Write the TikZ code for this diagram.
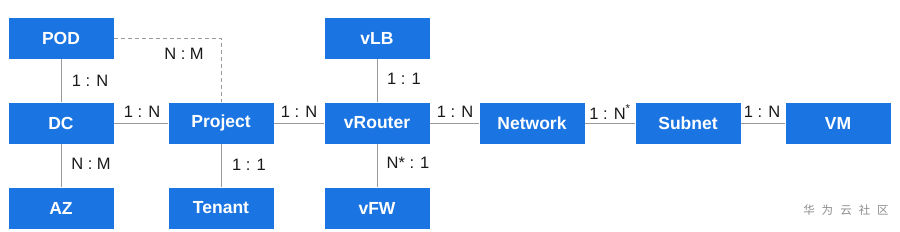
\documentclass[tikz,border=0pt]{standalone}
\usepackage{fontspec}
\setmainfont{Liberation Sans}
\newfontfamily\cjk{Noto Sans CJK SC}
\definecolor{boxblue}{HTML}{1A74E2}
\definecolor{linegray}{HTML}{9A9A9A}
\definecolor{wmgray}{HTML}{8C8C8C}
\begin{document}
\begin{tikzpicture}[x=1pt,y=-1pt,
  entity/.style={fill=boxblue,draw=none,minimum width=105pt,minimum height=41pt,inner sep=0pt,
    text=white,font=\fontsize{17.5}{19}\selectfont\bfseries},
  conn/.style={draw=linegray,line width=1pt},
  rel/.style={font=\fontsize{16.5}{18}\selectfont,text=black!90,inner sep=1pt}]
\useasboundingbox (0,0) rectangle (900,231);
\node[entity] (pod) at (61,38) {POD};
\node[entity] (dc) at (61,123) {DC};
\node[entity] (az) at (61,208) {AZ};
\node[entity] (project) at (221,123) {Project};
\node[entity] (tenant) at (221,208) {Tenant};
\node[entity] (vlb) at (377,38) {vLB};
\node[entity] (vrouter) at (377,123) {vRouter};
\node[entity] (vfw) at (377,208) {vFW};
\node[entity] (network) at (532,123) {Network};
\node[entity] (subnet) at (688,123) {Subnet};
\node[entity] (vm) at (838,123) {VM};
\draw[conn] (pod) -- (dc);
\draw[conn] (dc) -- (az);
\draw[conn] (dc) -- (project);
\draw[conn] (project) -- (tenant);
\draw[conn] (project) -- (vrouter);
\draw[conn] (vlb) -- (vrouter);
\draw[conn] (vrouter) -- (vfw);
\draw[conn] (vrouter) -- (network);
\draw[conn] (network) -- (subnet);
\draw[conn] (subnet) -- (vm);
\draw[conn,dashed,dash pattern=on 4pt off 3pt] (pod.east) -| (project.north);
\node[rel] (l1) at (184,54) {N : M};
\node[rel] (l2) at (90,81) {1 : N};
\node[rel] (l3) at (91,164) {N : M};
\node[rel] (l4) at (142,112) {1 : N};
\node[rel] (l5) at (249,165) {1 : 1};
\node[rel] (l6) at (299,112) {1 : N};
\node[rel] (l7) at (404,79) {1 : 1};
\node[rel] (l8) at (408,163) {N* : 1};
\node[rel] (l9) at (455,112) {1 : N};
\node[rel] (l10) at (610,112) {1 : N\textsuperscript{*}};
\node[rel] (l11) at (762,112) {1 : N};
\node[font=\cjk\fontsize{11.5}{13}\selectfont,text=wmgray] (wm) at (846,210) {华\hspace{7pt}为\hspace{7pt}云\hspace{7pt}社\hspace{7pt}区};
\end{tikzpicture}
\end{document}
